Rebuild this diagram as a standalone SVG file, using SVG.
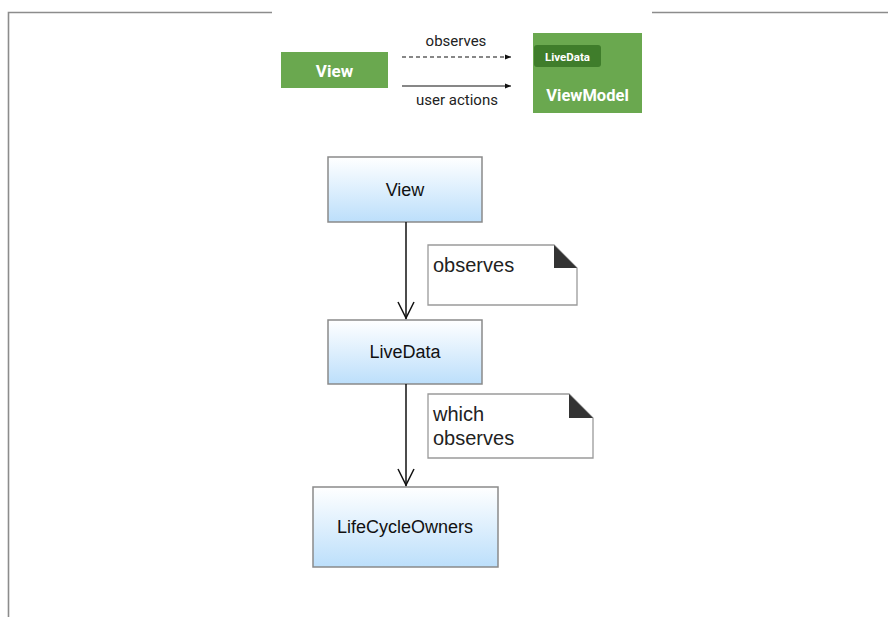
<svg xmlns="http://www.w3.org/2000/svg" width="888" height="617" viewBox="0 0 888 617">
  <style>
    .frame { stroke: #8c8c8c; stroke-width: 1.6; fill: none; }
    .gbox { fill: #6aa84f; }
    .gdark { fill: #3f7d2b; }
    .gtxt { font-family: Roboto, "Liberation Sans", sans-serif; font-weight: bold; fill: #ffffff; text-anchor: middle; }
    .lbl { font-family: Roboto, "Liberation Sans", sans-serif; font-size: 15px; fill: #222222; text-anchor: middle; }
    .flow { fill: url(#blueGrad); stroke: #8a8a8a; stroke-width: 1.5; }
    .ftxt { font-family: "Liberation Sans", Arial, sans-serif; font-size: 18px; fill: #111111; text-anchor: middle; }
    .note { fill: #ffffff; stroke: #9a9a9a; stroke-width: 1.3; }
    .fold { fill: #333333; }
    .ntxt { font-family: "Liberation Sans", Arial, sans-serif; font-size: 20px; fill: #222222; }
    .edge { stroke: #111111; stroke-width: 1.5; fill: none; }
    .thin { stroke: #111111; stroke-width: 1.1; fill: none; }
  </style>
  <defs>
    <linearGradient id="blueGrad" x1="0" y1="0" x2="0" y2="1">
      <stop offset="0" stop-color="#ffffff"/>
      <stop offset="1" stop-color="#bcdffb"/>
    </linearGradient>
    <marker id="tip" viewBox="0 0 10 10" refX="10" refY="5" markerWidth="6" markerHeight="6" markerUnits="userSpaceOnUse" orient="auto">
      <path d="M0,1 L10,5 L0,9 Z" fill="#111111"/>
    </marker>
  </defs>

  <rect width="888" height="617" fill="#ffffff"/>

  <!-- outer frame lines -->
  <path class="frame" d="M8.5,617 V12.5 H272"/>
  <path class="frame" d="M652,12.5 H888"/>

  <!-- top legend: View / ViewModel -->
  <g id="legend-view">
    <rect class="gbox" x="281" y="52" width="107" height="36"/>
    <text class="gtxt" x="334.5" y="77" font-size="17">View</text>
  </g>
  <g id="legend-viewmodel">
    <rect class="gbox" x="533" y="33" width="109" height="80"/>
    <rect class="gdark" x="534" y="45" width="67" height="22" rx="3"/>
    <text class="gtxt" x="567.5" y="61" font-size="11.5">LiveData</text>
    <text class="gtxt" x="587.5" y="100.5" font-size="16.5">ViewModel</text>
  </g>

  <!-- flow: View -> LiveData -> LifeCycleOwners -->
  <g id="node-view">
    <rect class="flow" x="328" y="157" width="154" height="65"/>
    <text class="ftxt" x="405" y="196">View</text>
  </g>
  <g id="node-livedata">
    <rect class="flow" x="328" y="320" width="154" height="64"/>
    <text class="ftxt" x="405" y="358">LiveData</text>
  </g>
  <g id="node-lifecycleowners">
    <rect class="flow" x="313" y="487" width="185" height="80"/>
    <text class="ftxt" x="405" y="533">LifeCycleOwners</text>
  </g>

  <!-- notes -->
  <g id="note-observes">
    <path class="note" d="M428,245 H554 L577,268 V305 H428 Z"/>
    <path class="fold" d="M554,245 L577,268 H554 Z"/>
    <text class="ntxt" x="433" y="272">observes</text>
  </g>
  <g id="note-which-observes">
    <path class="note" d="M428,394 H569 L593,418 V458 H428 Z"/>
    <path class="fold" d="M569,394 L593,418 H569 Z"/>
    <text class="ntxt" x="433" y="421">which</text>
    <text class="ntxt" x="433" y="445">observes</text>
  </g>

  <!-- connectors -->
  <g id="connectors">
    <line class="thin" x1="402" y1="57" x2="511" y2="57" stroke-dasharray="4,3" marker-end="url(#tip)"/>
    <line class="thin" x1="402" y1="86" x2="511" y2="86" marker-end="url(#tip)"/>
    <text class="lbl" x="456" y="46">observes</text>
    <text class="lbl" x="457" y="105">user actions</text>

    <line class="edge" x1="406" y1="222" x2="406" y2="319"/>
    <path class="edge" d="M398,302 L406,318 L414,302"/>
    <line class="edge" x1="406" y1="384" x2="406" y2="486"/>
    <path class="edge" d="M398,469 L406,485 L414,469"/>
  </g>
</svg>
